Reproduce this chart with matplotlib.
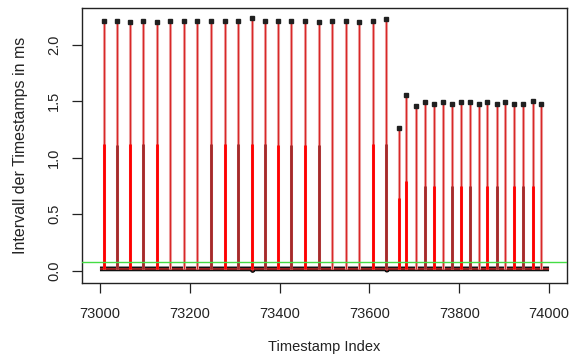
import matplotlib
matplotlib.use("Agg")
import matplotlib.pyplot as plt
import numpy as np

plt.rcParams['font.family'] = ['Liberation Sans', 'DejaVu Sans']

# Long intervals (first regime)
tall_idx = [73009, 73037, 73067, 73096, 73127, 73157, 73187, 73217, 73248, 73278, 73308,
            73338, 73368, 73396, 73426, 73456, 73487, 73516, 73547, 73577, 73607, 73637]
tall_val = [2.215, 2.215, 2.20, 2.215, 2.20, 2.215, 2.215, 2.215, 2.215, 2.215, 2.215,
            2.24, 2.215, 2.215, 2.215, 2.215, 2.20, 2.215, 2.215, 2.20, 2.215, 2.23]

# Long intervals (second regime)
low_idx = [73665, 73682, 73704, 73723, 73744, 73764, 73783, 73804, 73824, 73843, 73862,
           73884, 73903, 73923, 73942, 73964, 73983]
low_val = [1.26, 1.56, 1.46, 1.49, 1.48, 1.49, 1.48, 1.49, 1.49, 1.48, 1.49,
           1.48, 1.49, 1.48, 1.48, 1.50, 1.48]

# Split intervals next to the long ones (bright / dark red)
split_bright_idx = [73009, 73067, 73127, 73278, 73338, 73396, 73456, 73607, 73665, 73682,
                    73744, 73804, 73862, 73923, 73964]
split_bright_val = [1.12, 1.12, 1.12, 1.12, 1.12, 1.11, 1.11, 1.12, 0.64, 0.79,
                    0.75, 0.75, 0.75, 0.75, 0.75]
split_dark_idx = [73037, 73096, 73248, 73308, 73368, 73426, 73487, 73637, 73723, 73783,
                  73824, 73884, 73942]
split_dark_val = [1.11, 1.12, 1.12, 1.12, 1.12, 1.11, 1.11, 1.12, 0.75, 0.75,
                  0.75, 0.75, 0.75]

# Regular short intervals
base_start, base_end = 73000, 74000
base_val = 0.015
dip_idx = [73340, 73639]
dip_val = [0.0, 0.003]

threshold = 0.08

x_ticks = [73000, 73200, 73400, 73600, 73800, 74000]
y_ticks = [0.0, 0.5, 1.0, 1.5, 2.0]

fig = plt.figure(figsize=(5.77, 3.6), dpi=100)
ax = fig.add_axes([82 / 577, 1 - 283 / 360, (567 - 82) / 577, (283 - 8) / 360])

spike_idx = tall_idx + low_idx
spike_val = tall_val + low_val

# baseline band
bx = np.arange(base_start, base_end + 1)
by = np.full(bx.shape, base_val)
for i, v in zip(dip_idx, dip_val):
    by[bx == i] = v
ax.plot(bx, by, color='#111111', lw=3.4, zorder=2, solid_capstyle='butt')
ax.plot(bx, by, color='#a02020', lw=1.3, zorder=3, solid_capstyle='butt')

# long intervals as vertical lines
ax.vlines(spike_idx, base_val, spike_val, color='#eea0a0', lw=2.2, zorder=4)
ax.vlines(spike_idx, base_val, spike_val, color='#d82828', lw=0.8, zorder=5)

# split intervals
ax.vlines(split_bright_idx, base_val, split_bright_val, color='#ff0000', lw=2.0, zorder=6)
ax.vlines(split_dark_idx, base_val, split_dark_val, color='#a52a2a', lw=2.0, zorder=6)

# markers at tops
ax.plot(spike_idx, spike_val, linestyle='none', marker='s', ms=3.4,
        color='#202020', zorder=7)

ax.axhline(threshold, color='#44dd44', lw=1.0, zorder=8)

ax.set_xlim(72960, 74040)
ax.set_ylim(-0.11, 2.327)
ax.set_xticks(x_ticks)
ax.set_xticklabels([str(t) for t in x_ticks])
ax.set_yticks(y_ticks)
ax.set_yticklabels([f"{t:.1f}" for t in y_ticks], rotation=90, va='center')
ax.tick_params(direction='out', length=7, width=0.9, labelsize=10.5, colors='#222222')
ax.tick_params(axis='x', pad=10)
ax.tick_params(axis='y', pad=8)
for s in ax.spines.values():
    s.set_linewidth(1.0)
    s.set_color('#222222')

ax.set_xlabel('Timestamp Index', fontsize=10.5, labelpad=14, color='#222222')
ax.set_ylabel('Intervall der Timestamps in ms', fontsize=11.5, labelpad=14, color='#222222')

fig.savefig('out.png', dpi=100)
